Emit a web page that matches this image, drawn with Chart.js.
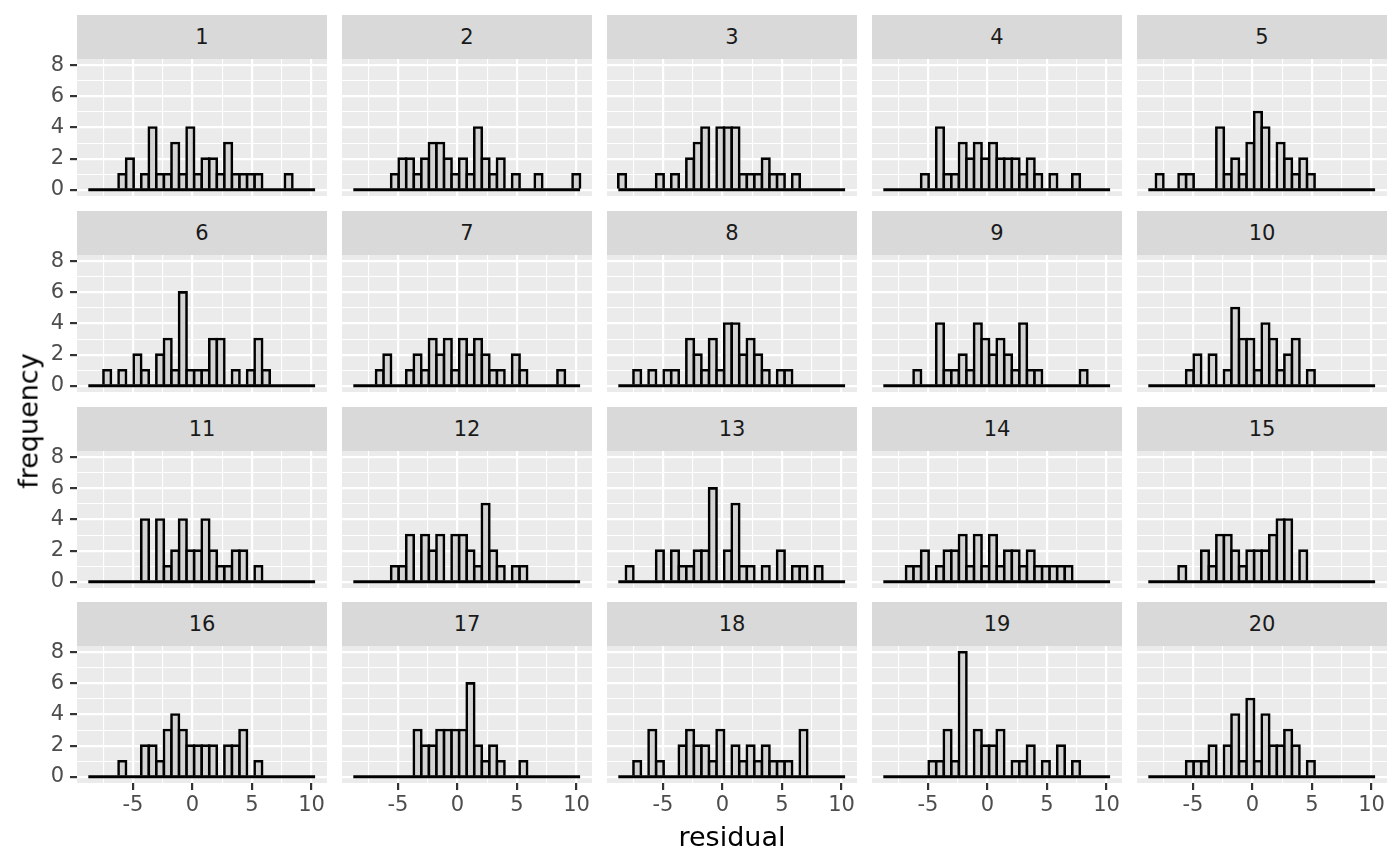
<!DOCTYPE html>
<html>
<head>
<meta charset="utf-8">
<title>residual histograms</title>
<script src="https://cdn.jsdelivr.net/npm/chart.js@4.4.1/dist/chart.umd.min.js"></script>
<style>
    html, body { margin: 0; padding: 0; background: #ffffff; }
    #fig { position: relative; width: 1400px; height: 866px; overflow: hidden; font-family: 'DejaVu Sans', sans-serif; }
    .strip { position: absolute; background: #D9D9D9; color: #1A1A1A; font-size: 21px;
             display: flex; align-items: center; justify-content: center; }
    .panel { position: absolute; }
    .axis-title { position: absolute; color: #000000; font-size: 27px; white-space: nowrap; }
</style>
</head>
<body>
<div id="fig"></div>
<script>
// ---- data ----
// bin centres (30 bins, shared by all panels)
const binCenters = [-8.433, -7.798, -7.163, -6.528, -5.893, -5.258, -4.623, -3.988, -3.353, -2.718,
                    -2.083, -1.448, -0.813, -0.178, 0.457, 1.092, 1.727, 2.362, 2.997, 3.632,
                    4.267, 4.902, 5.537, 6.172, 6.807, 7.442, 8.077, 8.712, 9.347, 9.982];
// outer edges of the binned range (flat zero line)
const binRange = [-8.75, 10.3];

const freq01 = [0,0,0,0,1,2,0,1,4,1,1,3,1,4,1,2,2,1,3,1,1,1,1,0,0,0,1,0,0,0];
const freq02 = [0,0,0,0,0,1,2,2,1,2,3,3,2,1,2,1,4,2,1,2,0,1,0,0,1,0,0,0,0,1];
const freq03 = [1,0,0,0,0,1,0,1,0,2,3,4,0,4,4,4,1,1,1,2,1,1,0,1,0,0,0,0,0,0];
const freq04 = [0,0,0,0,0,1,0,4,1,1,3,2,3,2,3,2,2,2,1,2,1,0,1,0,0,1,0,0,0,0];
const freq05 = [0,1,0,0,1,1,0,0,0,4,1,2,1,3,5,4,0,3,2,1,2,1,0,0,0,0,0,0,0,0];
const freq06 = [0,0,1,0,1,0,2,1,0,2,3,1,6,1,1,1,3,3,0,1,0,1,3,1,0,0,0,0,0,0];
const freq07 = [0,0,0,1,2,0,0,1,2,1,3,2,3,1,3,2,3,2,1,1,0,2,1,0,0,0,0,1,0,0];
const freq08 = [0,0,1,0,1,0,1,1,0,3,2,1,3,1,4,4,2,3,2,1,0,1,1,0,0,0,0,0,0,0];
const freq09 = [0,0,0,0,1,0,0,4,1,1,2,1,4,3,2,3,2,1,4,1,1,0,0,0,0,0,1,0,0,0];
const freq10 = [0,0,0,0,0,1,2,0,2,0,1,5,3,3,1,4,3,1,2,3,0,1,0,0,0,0,0,0,0,0];
const freq11 = [0,0,0,0,0,0,0,4,0,4,1,2,4,2,2,4,2,1,1,2,2,0,1,0,0,0,0,0,0,0];
const freq12 = [0,0,0,0,0,1,1,3,0,3,2,3,0,3,3,2,1,5,2,1,0,1,1,0,0,0,0,0,0,0];
const freq13 = [0,1,0,0,0,2,0,2,1,1,2,2,6,0,2,5,1,1,0,1,0,2,0,1,1,0,1,0,0,0];
const freq14 = [0,0,0,1,1,2,0,1,2,2,3,1,3,1,3,1,2,2,1,2,1,1,1,1,1,0,0,0,0,0];
const freq15 = [0,0,0,0,1,0,0,2,1,3,3,2,1,2,2,2,3,4,4,0,2,0,0,0,0,0,0,0,0,0];
const freq16 = [0,0,0,0,1,0,0,2,2,1,3,4,3,2,2,2,2,0,2,2,3,0,1,0,0,0,0,0,0,0];
const freq17 = [0,0,0,0,0,0,0,0,3,2,2,3,3,3,3,6,2,1,2,1,0,0,1,0,0,0,0,0,0,0];
const freq18 = [0,0,1,0,3,1,0,0,2,3,2,2,1,3,0,2,1,2,1,2,1,1,1,0,3,0,0,0,0,0];
const freq19 = [0,0,0,0,0,0,1,1,3,1,8,0,3,2,2,3,0,1,1,2,0,1,0,2,0,1,0,0,0,0];
const freq20 = [0,0,0,0,0,1,1,1,2,0,2,4,1,5,1,4,2,2,3,2,0,1,0,0,0,0,0,0,0,0];

const panelCounts = [freq01, freq02, freq03, freq04, freq05, freq06, freq07, freq08, freq09, freq10,
                     freq11, freq12, freq13, freq14, freq15, freq16, freq17, freq18, freq19, freq20];
const panelLabels = ['1','2','3','4','5','6','7','8','9','10','11','12','13','14','15','16','17','18','19','20'];

// axes
const xLimits = [-9.7, 11.3];
const yLimits = [-0.4, 8.4];
const xTicks = [-7.5, -5, -2.5, 0, 2.5, 5, 7.5, 10];
const xMajor = [-5, 0, 5, 10];
const yTicks = [0, 1, 2, 3, 4, 5, 6, 7, 8];
const yMajor = [0, 2, 4, 6, 8];
const xTitle = 'residual';
const yTitle = 'frequency';

// ---- layout (pixels) ----
const NCOL = 5;
const colLeft = [77, 342, 607, 872, 1137];
const stripTop = [15, 211, 407, 602];
const STRIP_H = 44;
const PLOT_W = 250;
const PLOT_H = 137;
const PAD_H = 12;   // spare room left/right of each plot
const PAD_V = 30;   // spare room above/below (keeps y labels from shrinking the panel)
const YAXIS_W = 77;
const XAXIS_H = 50;

const TICK_COLOR = '#4D4D4D';
const FONT = { family: "'DejaVu Sans', sans-serif", size: 21 };

// grey panel background behind the grid
const panelBg = {
    id: 'panelBg',
    beforeDraw(chart) {
        const { ctx, chartArea } = chart;
        ctx.save();
        ctx.fillStyle = '#EBEBEB';
        ctx.fillRect(chartArea.left, chartArea.top, chartArea.width, chartArea.height);
        ctx.restore();
    }
};

function makePanel(idx) {
    const fig = document.getElementById('fig');
    const r = Math.floor(idx / NCOL);
    const c = idx % NCOL;
    const showY = c === 0;
    const showX = r === stripTop.length - 1;

    // strip label
    const strip = document.createElement('div');
    strip.className = 'strip';
    strip.style.left = colLeft[c] + 'px';
    strip.style.top = stripTop[r] + 'px';
    strip.style.width = PLOT_W + 'px';
    strip.style.height = STRIP_H + 'px';
    strip.textContent = panelLabels[idx];
    fig.appendChild(strip);

    // canvas = plot area + margins for axes
    const plotTop = stripTop[r] + STRIP_H;
    const padL = showY ? 0 : PAD_H;
    const yW = showY ? YAXIS_W : 0;
    const xH = showX ? XAXIS_H : 0;
    const padB = showX ? 0 : PAD_V;
    const w = padL + yW + PLOT_W + PAD_H;
    const h = PAD_V + PLOT_H + xH + padB;

    const canvas = document.createElement('canvas');
    canvas.className = 'panel';
    canvas.width = w;
    canvas.height = h;
    canvas.style.width = w + 'px';
    canvas.style.height = h + 'px';
    canvas.style.left = (colLeft[c] - padL - yW) + 'px';
    canvas.style.top = (plotTop - PAD_V) + 'px';
    fig.appendChild(canvas);

    const counts = panelCounts[idx];

    new Chart(canvas.getContext('2d'), {
        type: 'bar',
        data: {
            datasets: [{
                type: 'line',
                data: binRange.map(x => ({ x: x, y: 0 })),
                borderColor: '#000000',
                borderWidth: 2.8,
                pointRadius: 0,
                order: 0
            }, {
                type: 'bar',
                data: binCenters.map((x, i) => ({ x: x, y: counts[i] })),
                backgroundColor: '#D3D3D3',
                borderColor: '#000000',
                borderWidth: 2.6,
                borderSkipped: 'start',
                inflateAmount: 1.3,
                barPercentage: 1,
                categoryPercentage: 1,
                order: 1
            }]
        },
        options: {
            responsive: false,
            animation: false,
            devicePixelRatio: 1,
            layout: { padding: { left: padL, right: PAD_H, top: PAD_V, bottom: padB } },
            plugins: { legend: { display: false }, tooltip: { enabled: false } },
            scales: {
                x: {
                    type: 'linear',
                    min: xLimits[0],
                    max: xLimits[1],
                    offset: false,
                    border: { display: false },
                    afterBuildTicks: (scale) => { scale.ticks = xTicks.map(v => ({ value: v })); },
                    afterFit: (scale) => { scale.height = xH; },
                    grid: {
                        offset: false,
                        color: '#FFFFFF',
                        lineWidth: (ctx) => xMajor.includes(ctx.tick.value) ? 2.2 : 1.1,
                        drawTicks: showX,
                        tickLength: 7,
                        tickWidth: 2.2,
                        tickColor: (ctx) => xMajor.includes(ctx.tick.value) ? '#333333' : 'rgba(0,0,0,0)'
                    },
                    ticks: {
                        display: showX,
                        autoSkip: false,
                        maxRotation: 0,
                        padding: 3,
                        color: TICK_COLOR,
                        font: FONT,
                        callback: (v) => xMajor.includes(v) ? String(v) : ''
                    }
                },
                y: {
                    type: 'linear',
                    min: yLimits[0],
                    max: yLimits[1],
                    border: { display: false },
                    afterBuildTicks: (scale) => { scale.ticks = yTicks.map(v => ({ value: v })); },
                    afterFit: (scale) => { scale.width = yW; },
                    grid: {
                        color: '#FFFFFF',
                        lineWidth: (ctx) => yMajor.includes(ctx.tick.value) ? 2.2 : 1.1,
                        drawTicks: showY,
                        tickLength: 7,
                        tickWidth: 2.2,
                        tickColor: (ctx) => yMajor.includes(ctx.tick.value) ? '#333333' : 'rgba(0,0,0,0)'
                    },
                    ticks: {
                        display: showY,
                        autoSkip: false,
                        padding: 6,
                        color: TICK_COLOR,
                        font: FONT,
                        callback: (v) => yMajor.includes(v) ? String(v) : ''
                    }
                }
            }
        },
        plugins: [panelBg]
    });
}

function addTitles() {
    const fig = document.getElementById('fig');
    const xt = document.createElement('div');
    xt.className = 'axis-title';
    xt.textContent = xTitle;
    xt.style.left = '732px';
    xt.style.top = '836px';
    xt.style.transform = 'translate(-50%, -50%)';
    fig.appendChild(xt);

    const yt = document.createElement('div');
    yt.className = 'axis-title';
    yt.textContent = yTitle;
    yt.style.left = '28px';
    yt.style.top = '421px';
    yt.style.transform = 'translate(-50%, -50%) rotate(-90deg)';
    fig.appendChild(yt);
}

document.addEventListener('DOMContentLoaded', () => {
    for (let i = 0; i < panelCounts.length; i++) makePanel(i);
    addTitles();
});
</script>
</body>
</html>
